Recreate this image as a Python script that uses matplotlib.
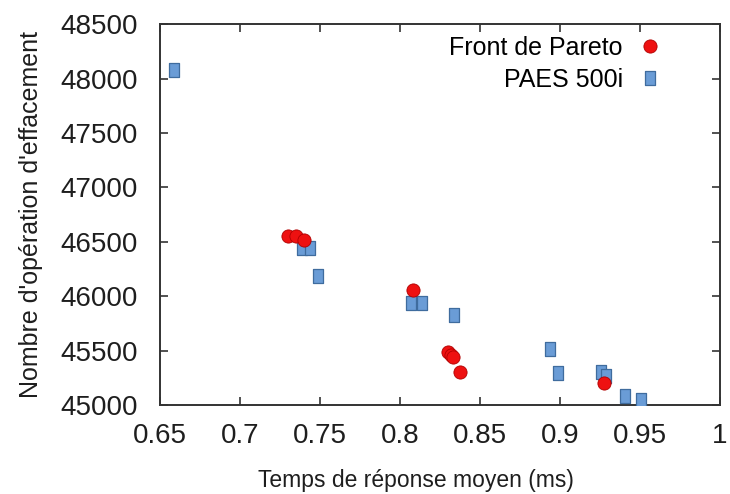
import matplotlib
matplotlib.use("Agg")
import matplotlib.pyplot as plt
from matplotlib.path import Path

plt.rcParams['font.family'] = ['Liberation Sans', 'DejaVu Sans']

# ==== Data ====
paes_x = [0.659, 0.739, 0.744, 0.7486, 0.807, 0.814, 0.834, 0.894, 0.899, 0.926, 0.929, 0.9406, 0.9506]
paes_y = [48075, 46440, 46440, 46186, 45942, 45942, 45832, 45511, 45296, 45300, 45266, 45085, 45046]

pareto_x = [0.730, 0.735, 0.740, 0.808, 0.830, 0.832, 0.833, 0.8375, 0.9275]
pareto_y = [46555, 46555, 46519, 46061, 45489, 45458, 45443, 45306, 45199]

x_ticks = [0.65, 0.7, 0.75, 0.8, 0.85, 0.9, 0.95, 1]
x_labels = ["0.65", "0.7", "0.75", "0.8", "0.85", "0.9", "0.95", "1"]
y_ticks = [45000, 45500, 46000, 46500, 47000, 47500, 48000, 48500]

# tall square marker
rect = Path([(-0.38, -0.5), (0.38, -0.5), (0.38, 0.5), (-0.38, 0.5), (-0.38, -0.5)],
            [Path.MOVETO, Path.LINETO, Path.LINETO, Path.LINETO, Path.CLOSEPOLY])

fig = plt.figure(figsize=(7.3, 4.94), dpi=100)
ax = fig.add_axes([0.219, 0.180, 0.767, 0.771])

ax.plot(paes_x, paes_y, linestyle='none', marker=rect, markersize=10,
        markerfacecolor='#6a9cd6', markeredgecolor='#3f6c9e', markeredgewidth=0.9,
        label='PAES 500i', zorder=3)
ax.plot(pareto_x, pareto_y, linestyle='none', marker='o', markersize=9.5,
        markerfacecolor='#ee1111', markeredgecolor='#b00000', markeredgewidth=0.6,
        label='Front de Pareto', zorder=4)

ax.set_xlim(0.65, 1.0)
ax.set_ylim(45000, 48500)
ax.set_xticks(x_ticks)
ax.set_xticklabels(x_labels)
ax.set_yticks(y_ticks)

for s in ax.spines.values():
    s.set_color('#333333')
    s.set_linewidth(1.4)
ax.tick_params(direction='in', length=6, width=1.2, color='#333333',
               top=True, right=True, labelsize=20, labelcolor='#1e1e1e')
ax.tick_params(axis='y', pad=16)
ax.tick_params(axis='x', pad=13)

ax.set_xlabel("Temps de réponse moyen (ms)", fontsize=16.5, color='#1e1e1e')
ax.xaxis.set_label_coords(0.457, -0.168)
ax.set_ylabel("Nombre d'opération d'effacement", fontsize=18, color='#1e1e1e', labelpad=12)

handles, labels = ax.get_legend_handles_labels()
leg = ax.legend(handles[::-1], labels[::-1], loc='upper right', frameon=False,
                markerfirst=False, fontsize=18, handlelength=1.0, handletextpad=0.6,
                labelspacing=0.3, borderaxespad=0.2, bbox_to_anchor=(0.925, 1.008))

fig.savefig("out.png", dpi=100)
